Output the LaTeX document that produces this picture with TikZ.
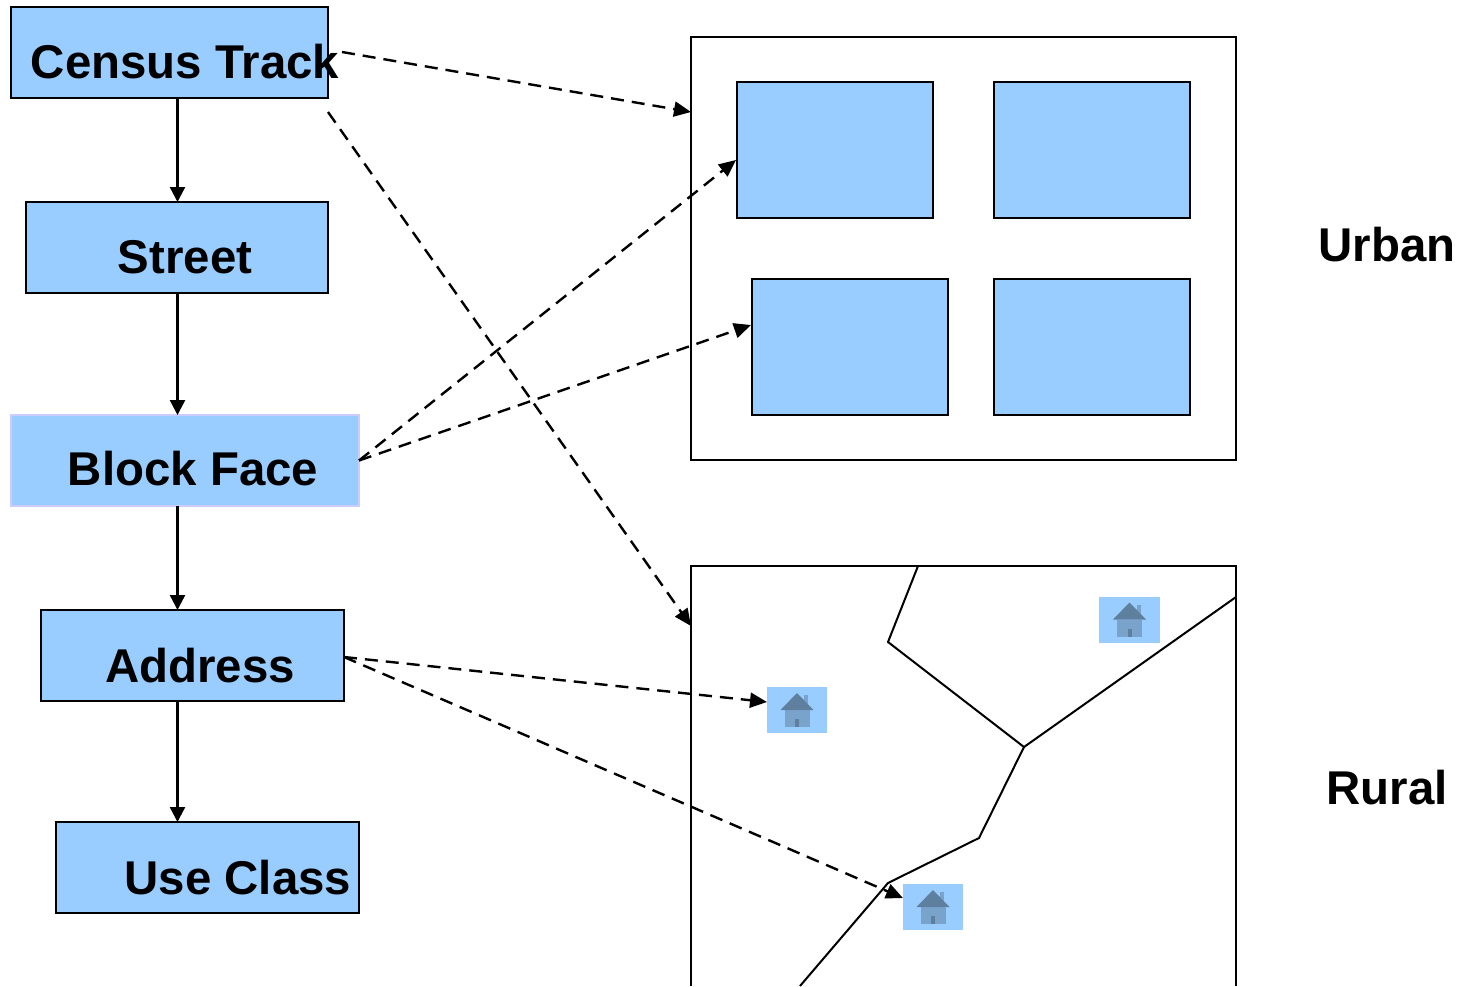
\documentclass[tikz,border=0pt]{standalone}
\usepackage{fontspec}
\setmainfont{Liberation Sans}
\usetikzlibrary{arrows.meta}
\definecolor{fillblue}{HTML}{99CCFF}
\definecolor{lav}{HTML}{CCCCFF}
\definecolor{roofc}{HTML}{5F7F9F}
\definecolor{wallc}{HTML}{7AA3CC}
\tikzset{
  x=1pt,y=-1pt,
  blue box/.style={draw=black,line width=2pt,fill=fillblue,inner sep=0pt,outer sep=0pt,anchor=north west},
  title text/.style={font=\fontsize{47.4}{48}\selectfont\bfseries,anchor=base,inner sep=0pt,text=black},
  solid arrow/.style={draw=black,line width=2.4pt,-{Triangle[length=15pt,width=15pt]}},
  dash arrow/.style={draw=black,line width=2.4pt,dash pattern=on 13pt off 8pt,-{Triangle[length=17pt,width=15pt]}},
  thin line/.style={draw=black,line width=2pt,line join=miter},
  tile/.style={fill=fillblue,draw=none,inner sep=0pt,outer sep=0pt,minimum width=60.5pt,minimum height=46pt},
}
\newcommand{\housepic}[1]{%
  \begin{scope}[shift={(#1)}]
    \fill[wallc] (7,-15) rectangle (11,-5);
    \fill[wallc] (-12.5,0) rectangle (12.5,17);
    \fill[roofc] (0,-17) -- (16.5,0) -- (-16.5,0) -- cycle;
    \fill[roofc] (-2,9) rectangle (2,17);
  \end{scope}}
\begin{document}
\begin{tikzpicture}
\useasboundingbox (0,0) rectangle (1467,986);
% left boxes
\node[blue box,minimum width=317pt,minimum height=91pt] (census) at (11,7) {};
\node[blue box,minimum width=302pt,minimum height=91pt] (street) at (26,202) {};
\node[blue box,draw=lav,minimum width=348pt,minimum height=91pt] (blockface) at (11,415) {};
\node[blue box,minimum width=303pt,minimum height=91pt] (address) at (41,610) {};
\node[blue box,minimum width=303pt,minimum height=91pt] (useclass) at (56,822) {};
\node[title text] (censustext) at (185,78) {Census Track};
\node[title text] (streettext) at (185,273) {Street};
\node[title text] (blocktext) at (193,485) {Block Face};
\node[title text] (addresstext) at (200,682) {Address};
\node[title text] (usetext) at (238,894) {Use Class};
% spine
\coordinate (spine) at (177.5,0);
\draw[solid arrow] (census.south -| spine) -- (street.north -| spine);
\draw[solid arrow] (street.south -| spine) -- (blockface.north -| spine);
\draw[solid arrow] (blockface.south -| spine) -- (address.north -| spine);
\draw[solid arrow] (address.south -| spine) -- (useclass.north -| spine);
% urban
\node[draw=black,line width=2pt,fill=white,inner sep=0pt,outer sep=0pt,anchor=north west,minimum width=544.5pt,minimum height=423pt] (urban) at (691.3,37) {};
\node[blue box,minimum width=196.5pt,minimum height=136pt] (ua) at (736.5,82) {};
\node[blue box,minimum width=196.5pt,minimum height=136pt] (ub) at (993.5,82) {};
\node[blue box,minimum width=196.5pt,minimum height=136pt] (uc) at (751.5,279) {};
\node[blue box,minimum width=196.5pt,minimum height=136pt] (ud) at (993.5,279) {};
\node[title text] (urbantext) at (1387,261) {Urban};
\node[title text] (ruraltext) at (1387,804) {Rural};
% rural
\draw[thin line] (691,986) -- (691,566) -- (1236,566) -- (1236,986);
\draw[thin line] (918,566) -- (888,642) -- (1024,747) -- (1236,597);
\draw[thin line] (1024,747) -- (979,838) -- (888,883) -- (800,986);
% houses
\node[tile] (h1) at (797,710) {};
\node[tile] (h2) at (1129.5,619.5) {};
\node[tile] (h3) at (933,907) {};
\housepic{797,710}
\housepic{1129.5,619.5}
\housepic{933,907}
% connector ends
\coordinate (cs1) at (342,52);
\coordinate (cs2) at (328,112);
\coordinate (ct1) at (691,112);
\coordinate (ct2) at (691,626);
\coordinate (ta) at (736,160);
\coordinate (tc) at (751,325);
\coordinate (th1) at (767,702);
\coordinate (th3) at (903,898);
\draw[dash arrow] (cs1) -- (ct1);
\draw[dash arrow] (cs2) -- (ct2);
\draw[dash arrow] (blockface.east) -- (ta);
\draw[dash arrow] (blockface.east) -- (tc);
\draw[dash arrow] (address.east) ++(0,1.5) -- (th1);
\draw[dash arrow] (address.east) ++(0,1.5) -- (th3);
\end{tikzpicture}
\end{document}
